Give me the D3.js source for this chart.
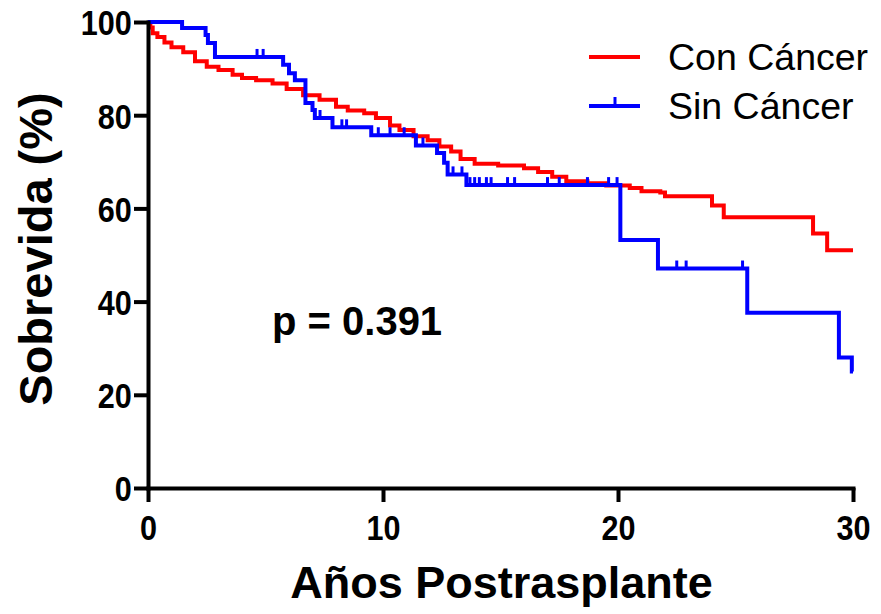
<!DOCTYPE html>
<html>
<head>
<meta charset="utf-8">
<script src="https://cdn.jsdelivr.net/npm/d3@7"></script>
<style>
  body { margin: 0; background: #fff; }
  svg text { font-family: "Liberation Sans", Arial, sans-serif; }
</style>
</head>
<body>
<div id="chart"></div>
<script>
// Kaplan-Meier curves
const conTime = [0, 0.1, 0.2, 0.4, 0.7, 1.0, 1.5, 2.0, 2.5, 3.0, 3.6, 4.0, 4.6, 5.3, 5.9, 6.6, 7.3, 8.0, 8.5, 9.2, 9.7,
    10.3, 10.7, 11.3, 11.9, 12.4, 12.9, 13.3, 13.9, 14.9, 16.0, 16.6, 17.2, 17.8, 18.7, 19.5, 20.5, 21.0, 21.8, 22.0,
    24.0, 24.5, 28.3, 28.9, 30];
const conSurv = [100, 98.8, 97.6, 96.8, 95.6, 94.6, 93.5, 91.6, 90.4, 89.7, 88.7, 88.0, 87.5, 86.8, 85.6, 84.3, 83.3, 81.8, 81.0, 80.4, 79.4,
    77.8, 76.8, 75.5, 74.6, 73.3, 72.2, 70.6, 69.6, 69.2, 68.6, 67.8, 66.8, 65.8, 65.4, 64.9, 64.4, 63.7, 63.4, 62.6,
    60.6, 58.1, 54.6, 51.0, 51.0];

const sinTime = [0, 1.45, 2.45, 2.55, 2.85, 5.75, 6.0, 6.25, 6.7, 7.0, 7.1, 7.85, 9.5, 11.4, 12.3, 12.6, 12.75, 13.55,
    20.1, 21.7, 25.5, 29.4, 29.95, 30];
const sinSurv = [100, 98.7, 97.2, 95.5, 92.5, 90.8, 89.0, 87.5, 82.6, 81.1, 79.4, 77.4, 75.7, 73.5, 71.9, 69.8, 67.3, 65.0,
    53.2, 47.1, 37.6, 28.0, 25.0, 25.0];
// censored observations (Sin Cáncer)
const sinCensor = [4.64, 4.9, 7.32, 8.25, 8.45, 9.8, 10.3, 10.9, 11.7, 12.98, 13.36, 13.7, 13.9, 14.1, 14.4, 14.6,
    15.3, 15.6, 17.0, 17.5, 18.7, 19.6, 19.96, 22.5, 22.9, 25.3];

const xTicks = [0, 10, 20, 30];
const yTicks = [0, 20, 40, 60, 80, 100];
const seriesNames = ['Con Cáncer', 'Sin Cáncer'];
const seriesColors = ['#ff0000', '#0000ff'];

const W = 881, H = 614;
const margin = { top: 22, right: 28, bottom: 126, left: 148 };

const svg = d3.select('#chart').append('svg')
    .attr('width', W)
    .attr('height', H);

const x = d3.scaleLinear().domain([0, 30]).range([margin.left, W - margin.right]);
const y = d3.scaleLinear().domain([0, 100]).range([H - margin.bottom, margin.top]);

const line = d3.line()
    .x(d => x(d[0]))
    .y(d => y(d[1]))
    .curve(d3.curveStepAfter);

const conData = conTime.map((t, i) => [t, conSurv[i]]);
const sinData = sinTime.map((t, i) => [t, sinSurv[i]]);

// survival value at time t for a step curve
function stepAt(times, surv, t) {
    let v = surv[0];
    for (let i = 0; i < times.length; i++) {
        if (times[i] <= t) v = surv[i];
    }
    return v;
}

// curves
svg.append('path')
    .datum(conData)
    .attr('fill', 'none')
    .attr('stroke', seriesColors[0])
    .attr('stroke-width', 4)
    .attr('d', line);

svg.append('path')
    .datum(sinData)
    .attr('fill', 'none')
    .attr('stroke', seriesColors[1])
    .attr('stroke-width', 4)
    .attr('d', line);

svg.append('g').selectAll('line')
    .data(sinCensor)
    .enter().append('line')
    .attr('x1', d => x(d))
    .attr('x2', d => x(d))
    .attr('y1', d => y(stepAt(sinTime, sinSurv, d)))
    .attr('y2', d => y(stepAt(sinTime, sinSurv, d)) - 8)
    .attr('stroke', seriesColors[1])
    .attr('stroke-width', 3);

// axes
const xAxis = svg.append('g')
    .attr('transform', `translate(0,${y(0)})`)
    .call(d3.axisBottom(x).tickValues(xTicks).tickSize(14).tickPadding(12).tickSizeOuter(0));

const yAxis = svg.append('g')
    .attr('transform', `translate(${x(0)},0)`)
    .call(d3.axisLeft(y).tickValues(yTicks).tickSize(14).tickPadding(5).tickSizeOuter(0));

[xAxis, yAxis].forEach(ax => {
    ax.select('.domain').attr('stroke', '#000').attr('stroke-width', 4).attr('stroke-linecap', 'square');
    ax.selectAll('.tick line').attr('stroke', '#000').attr('stroke-width', 4);
    ax.selectAll('.tick text')
        .attr('fill', '#000')
        .style('font-size', '36px')
        .style('font-weight', 'bold');
});
xAxis.selectAll('.tick text').attr('transform', 'scale(0.85,1)');
yAxis.selectAll('.tick text').attr('transform', 'scale(0.85,1)').attr('dy', '0.36em');

// axis titles
svg.append('text')
    .attr('x', (x(0) + x(30)) / 2 + 1)
    .attr('y', 598)
    .attr('text-anchor', 'middle')
    .style('font-size', '45px')
    .style('font-weight', 'bold')
    .text('Años Postrasplante');

svg.append('text')
    .attr('transform', `translate(52,249) rotate(-90)`)
    .attr('text-anchor', 'middle')
    .style('font-size', '47px')
    .style('font-weight', 'bold')
    .text('Sobrevida (%)');

// p value
svg.append('text')
    .attr('x', 272)
    .attr('y', 335)
    .style('font-size', '40px')
    .style('font-weight', 'bold')
    .text('p = 0.391');

// legend
const legend = svg.append('g');
seriesNames.forEach((name, i) => {
    const ly = 57 + i * 49;
    legend.append('line')
        .attr('x1', 589).attr('x2', 640)
        .attr('y1', ly).attr('y2', ly)
        .attr('stroke', seriesColors[i])
        .attr('stroke-width', 4);
    if (i === 1) {
        legend.append('line')
            .attr('x1', 615).attr('x2', 615)
            .attr('y1', ly).attr('y2', ly - 9)
            .attr('stroke', seriesColors[i])
            .attr('stroke-width', 3);
    }
    legend.append('text')
        .attr('x', 668)
        .attr('y', ly + 13)
        .style('font-size', '37.5px')
        .text(name);
});
</script>
</body>
</html>
